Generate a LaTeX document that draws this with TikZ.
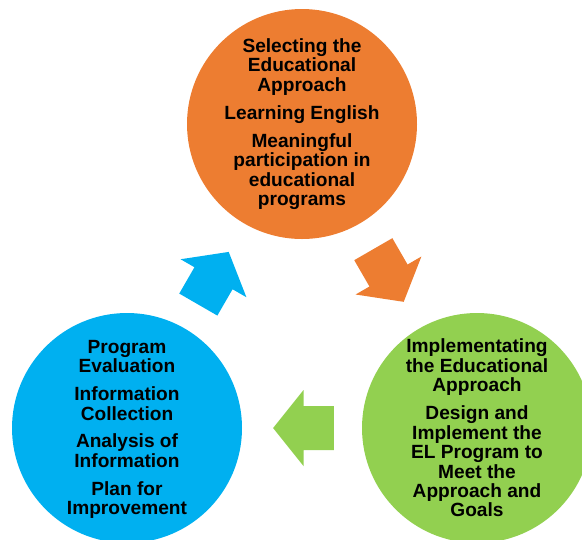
\documentclass[tikz,border=0pt]{standalone}
\usepackage{fontspec}
\setmainfont{Liberation Sans}
\usetikzlibrary{positioning}
\definecolor{stageorange}{HTML}{ED7D31}
\definecolor{stageblue}{HTML}{00B0F0}
\definecolor{stagegreen}{HTML}{92D050}
\tikzset{
  stage/.style={circle, minimum size=5.75cm, inner sep=0pt},
  stagetext/.style={align=center, font=\fontsize{13.6}{13.85}\selectfont\bfseries},
  cyclearrow/.pic={\path[pic actions] (-0.76,-0.55) -- (0,-0.55) -- (0,-0.95) -- (0.76,0) -- (0,0.95) -- (0,0.55) -- (-0.76,0.55) -- cycle;}
}

\begin{document}
\begin{tikzpicture}
\useasboundingbox (0,0) rectangle (14.55,-13.475);

% the three stages
\node[stage, fill=stageorange] (select) at (7.55,-3.1) {};
\node[stage, fill=stagegreen] (implement) at (11.925,-10.7) {};
\node[stage, fill=stageblue] (evaluate) at (3.175,-10.7) {};

\node[stagetext] (select-text) at (select) {Selecting the\\Educational\\Approach\\[6pt]
    Learning English\\[6pt]
    Meaningful\\participation in\\educational\\programs};
\node[stagetext] (implement-text) at (implement) {Implementating\\the Educational\\Approach\\[6pt]
    Design and\\Implement the\\EL Program to\\Meet the\\Approach and\\Goals};
\node[stagetext] (evaluate-text) at ([yshift=-1pt]evaluate) {Program\\Evaluation\\[6pt]
    Information\\Collection\\[6pt]
    Analysis of\\Information\\[6pt]
    Plan for\\Improvement};

% arrows of the cycle
\pic[fill=stageorange, rotate=-60] at (9.7125,-6.8875) {cyclearrow};
\pic[fill=stagegreen, rotate=180] at (7.5875,-10.7) {cyclearrow};
\pic[fill=stageblue, rotate=60] at (5.3375,-6.956) {cyclearrow};
\end{tikzpicture}
\end{document}
